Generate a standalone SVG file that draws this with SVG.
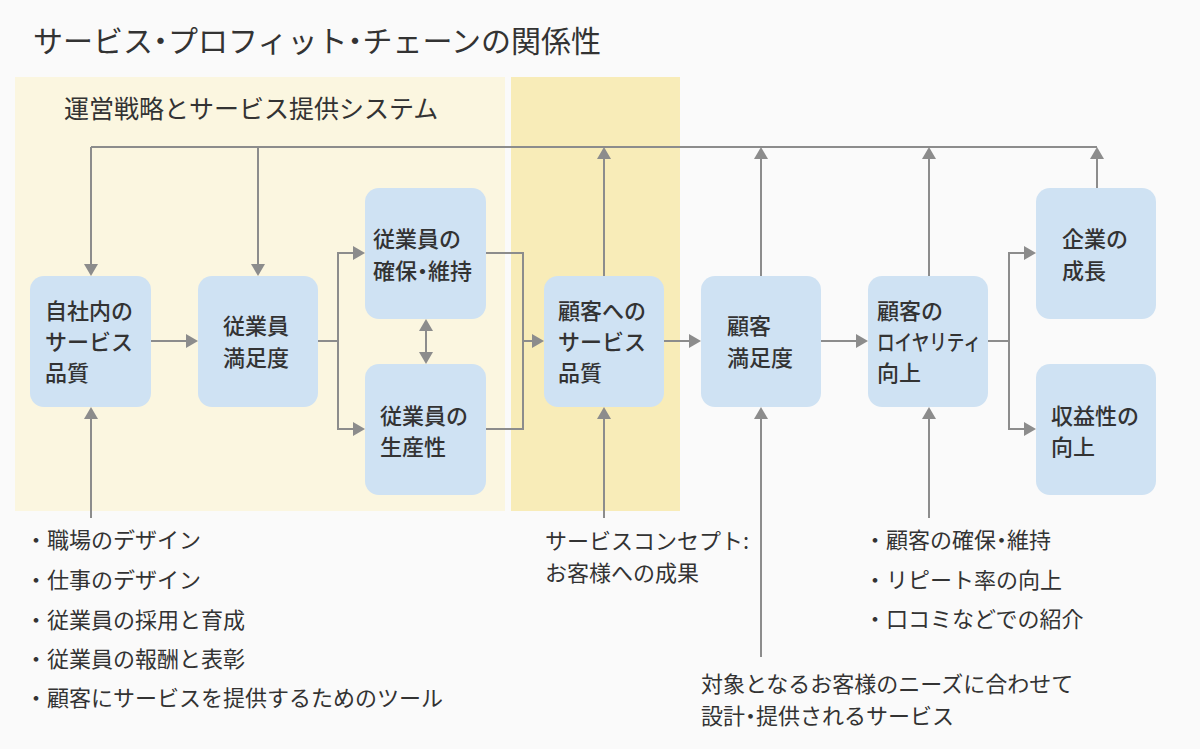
<svg xmlns="http://www.w3.org/2000/svg" width="1200" height="749" viewBox="0 0 1200 749">
<style>
text{font-family:"Noto Sans CJK JP","Noto Sans",sans-serif;fill:#333333}
.title{font-size:30px}
.sub{font-size:25px}
.bt{font-size:22px;font-weight:500}
.lt{font-size:22px}
.p{font-feature-settings:"palt" 1}
.box{fill:#cfe2f3}
.ln{fill:none;stroke:#8c8c8c;stroke-width:2}
.ar{marker-end:url(#ah)}
.ar2{marker-start:url(#ah);marker-end:url(#ah)}
</style>
<defs>
<marker id="ah" viewBox="0 0 12 14" refX="4" refY="7" markerWidth="12" markerHeight="14" markerUnits="userSpaceOnUse" orient="auto-start-reverse">
<path d="M0,0 L12,7 L0,14 z" fill="#8c8c8c"/>
</marker>
</defs>
<rect x="0" y="0" width="1200" height="749" fill="#fafafa"/>
<rect id="panel-system" x="15" y="77" width="490" height="434" fill="#fbf6e0"/>
<rect id="panel-concept" x="511" y="77" width="169" height="434" fill="#f8ecb8"/>
<text class="title" x="33" y="52">サービス<tspan class="p">・</tspan>プロフィット<tspan class="p">・</tspan>チェーンの関係性</text>
<text class="sub" x="64" y="118">運営戦略とサービス提供システム</text>

<g id="connectors">
<path class="ln" d="M91,147 H1097"/>
<path class="ln ar" d="M91,147 V268"/>
<path class="ln ar" d="M258,147 V268"/>
<path class="ln ar" d="M604,276 V155"/>
<path class="ln ar" d="M761,276 V155"/>
<path class="ln ar" d="M929,276 V155"/>
<path class="ln ar" d="M1097,188 V155"/>
<path class="ln ar" d="M151,341 H190"/>
<path class="ln" d="M318,341 H338"/>
<path class="ln ar2" d="M357,253 H338 V429 H357"/>
<path class="ln ar2" d="M426,327 V356"/>
<path class="ln" d="M486,253 H523 V429 H486"/>
<path class="ln ar" d="M523,341 H536"/>
<path class="ln ar" d="M664,341 H693"/>
<path class="ln ar" d="M821,341 H860"/>
<path class="ln" d="M988,341 H1009"/>
<path class="ln ar2" d="M1028,253 H1009 V429 H1028"/>
<path class="ln ar" d="M91,518 V415"/>
<path class="ln ar" d="M604,518 V415"/>
<path class="ln ar" d="M761,657 V415"/>
<path class="ln ar" d="M929,518 V415"/>
</g>

<g id="n-internal-quality">
<rect class="box" x="30" y="276" width="121" height="131" rx="14"/>
<text class="bt" x="45" y="319">自社内の</text>
<text class="bt" x="45" y="350">サービス</text>
<text class="bt" x="45" y="381">品質</text>
</g>
<g id="n-employee-satisfaction">
<rect class="box" x="198" y="276" width="120" height="131" rx="14"/>
<text class="bt" x="223" y="334">従業員</text>
<text class="bt" x="223" y="366">満足度</text>
</g>
<g id="n-employee-retention">
<rect class="box" x="365" y="188" width="121" height="131" rx="14"/>
<text class="bt" x="373" y="247">従業員の</text>
<text class="bt" x="373" y="279">確保<tspan class="p">・</tspan>維持</text>
</g>
<g id="n-employee-productivity">
<rect class="box" x="365" y="364" width="121" height="131" rx="14"/>
<text class="bt" x="380" y="424">従業員の</text>
<text class="bt" x="380" y="455">生産性</text>
</g>
<g id="n-external-quality">
<rect class="box" x="544" y="276" width="120" height="131" rx="14"/>
<text class="bt" x="558" y="319">顧客への</text>
<text class="bt" x="558" y="350">サービス</text>
<text class="bt" x="558" y="381">品質</text>
</g>
<g id="n-customer-satisfaction">
<rect class="box" x="701" y="276" width="120" height="131" rx="14"/>
<text class="bt" x="727" y="334">顧客</text>
<text class="bt" x="727" y="366">満足度</text>
</g>
<g id="n-customer-loyalty">
<rect class="box" x="868" y="276" width="120" height="131" rx="14"/>
<text class="bt" x="877" y="319">顧客の</text>
<text class="bt" x="877" y="350" textLength="104" lengthAdjust="spacingAndGlyphs">ロイヤリティ</text>
<text class="bt" x="877" y="381">向上</text>
</g>
<g id="n-growth">
<rect class="box" x="1036" y="188" width="120" height="131" rx="14"/>
<text class="bt" x="1062" y="247">企業の</text>
<text class="bt" x="1062" y="279">成長</text>
</g>
<g id="n-profitability">
<rect class="box" x="1036" y="364" width="120" height="131" rx="14"/>
<text class="bt" x="1051" y="424">収益性の</text>
<text class="bt" x="1051" y="455">向上</text>
</g>

<g id="note-system">
<text class="lt" x="25" y="548">・職場のデザイン</text>
<text class="lt" x="25" y="588">・仕事のデザイン</text>
<text class="lt" x="25" y="628">・従業員の採用と育成</text>
<text class="lt" x="25" y="667">・従業員の報酬と表彰</text>
<text class="lt" x="25" y="706">・顧客にサービスを提供するためのツール</text>
</g>
<g id="note-concept">
<text class="lt" x="545" y="549">サービスコンセプト:</text>
<text class="lt" x="545" y="581">お客様への成果</text>
</g>
<g id="note-loyalty">
<text class="lt" x="864" y="548">・顧客の確保<tspan class="p">・</tspan>維持</text>
<text class="lt" x="864" y="588">・リピート率の向上</text>
<text class="lt" x="864" y="627">・口コミなどでの紹介</text>
</g>
<g id="note-service">
<text class="lt" x="701" y="692">対象となるお客様のニーズに合わせて</text>
<text class="lt" x="701" y="724">設計<tspan class="p">・</tspan>提供されるサービス</text>
</g>
</svg>
